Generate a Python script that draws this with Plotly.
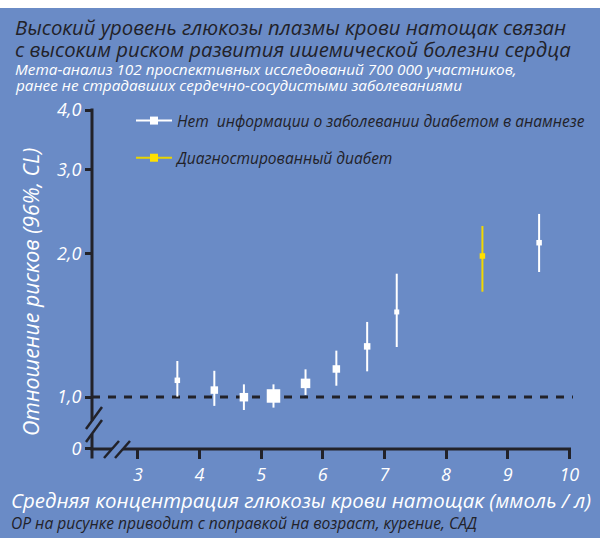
import plotly.graph_objects as go

# ---------------- data ----------------
glucose_nodiab = [3.64, 4.24, 4.72, 5.20, 5.72, 6.22, 6.72, 7.20, 9.51]
rr_nodiab = [1.084, 1.034, 0.999, 1.005, 1.068, 1.145, 1.277, 1.508, 2.107]
lo_nodiab = [1.002, 0.958, 0.939, 0.950, 1.010, 1.056, 1.132, 1.273, 1.829]
hi_nodiab = [1.190, 1.135, 1.063, 1.063, 1.143, 1.251, 1.437, 1.814, 2.421]
weight_nodiab = [5.5, 7.5, 8.5, 13.5, 9.5, 7.5, 6.5, 5, 5.5]

glucose_diab = [8.59]
rr_diab = [1.976]
lo_diab = [1.663]
hi_diab = [2.284]
weight_diab = [5.5]

x_ticks = [3, 4, 5, 6, 7, 8, 9, 10]
x_ticktext = ["3", "4", "5", "6", "7", "8", "9", "10"]
y_ticks = [0.778, 1.0, 2.0, 3.0, 4.0]
y_ticktext = ["0", "1,0", "2,0", "3,0", "4,0"]
ref_value = 1.0

name_nodiab = "Нет\u00a0 информации о заболевании диабетом в анамнезе"
name_diab = "Диагностированный диабет"

title1 = "Высокий уровень глюкозы плазмы крови натощак связан"
title2 = "с высоким риском развития ишемической болезни сердца"
sub1 = "Мета-анализ 102 проспективных исследований 700 000 участников,"
sub2 = "ранее не страдавших сердечно-сосудистыми заболеваниями"
x_title = "Средняя концентрация глюкозы крови натощак (ммоль / л)"
y_title = "Отношение рисков (96%, CL)"
note = "ОР на рисунке приводит с поправкой на возраст, курение, САД"

# ---------------- style / layout ----------------
W, H = 604, 538
ML, MR, MT, MB = 92, 29, 110, 89
PW, PH = W - ML - MR, H - MT - MB
BG = "#6a8bc6"
DARK = "#222229"
WHITE = "#ffffff"
YELLOW = "#ffe000"
FONT = "Open Sans"


def px2x(px):
    return (px - ML) / PW


def py2y(py):
    return (H - MB - py) / PH


fig = go.Figure()

# reference line at RR = 1
fig.add_trace(go.Scatter(
    x=[2.2552, 10.06], y=[ref_value, ref_value], mode="lines",
    line=dict(color=DARK, width=3, dash="8px,8px"),
    showlegend=False, hoverinfo="skip"))


def err(vals, lo, hi, color):
    return dict(type="data", symmetric=False,
                array=[h - v for v, h in zip(vals, hi)],
                arrayminus=[v - l for v, l in zip(vals, lo)],
                color=color, thickness=2, width=0)


fig.add_trace(go.Scatter(
    x=glucose_nodiab, y=rr_nodiab, mode="markers",
    marker=dict(symbol="square", color=WHITE, size=weight_nodiab, line=dict(width=0), opacity=1),
    error_y=err(rr_nodiab, lo_nodiab, hi_nodiab, WHITE), showlegend=False))

fig.add_trace(go.Scatter(
    x=glucose_diab, y=rr_diab, mode="markers",
    marker=dict(symbol="square", color=YELLOW, size=weight_diab, line=dict(width=0), opacity=1),
    error_y=err(rr_diab, lo_diab, hi_diab, "#f2d800"), showlegend=False))

# legend entries
fig.add_trace(go.Scatter(
    x=[None], y=[None], mode="lines+markers", name=name_nodiab, legendgroup="a",
    line=dict(color=WHITE, width=2),
    marker=dict(symbol="square", color=WHITE, size=8)))
fig.add_trace(go.Scatter(
    x=[None], y=[None], mode="lines+markers", name=name_diab, legendgroup="b",
    line=dict(color="#e8d400", width=2),
    marker=dict(symbol="square", color=YELLOW, size=8)))

shapes = []
# white strips (top, right)
shapes.append(dict(type="rect", xref="paper", yref="paper",
                   x0=px2x(-5), x1=px2x(W + 5), y0=py2y(8), y1=py2y(-5),
                   fillcolor="white", line=dict(width=0), layer="below"))
shapes.append(dict(type="rect", xref="paper", yref="paper",
                   x0=px2x(600), x1=px2x(W + 5), y0=py2y(H + 5), y1=py2y(-5),
                   fillcolor="white", line=dict(width=0), layer="below"))


def seg(x0, y0, x1, y1, w=3):
    shapes.append(dict(type="line", xref="paper", yref="paper",
                       x0=px2x(x0), y0=py2y(y0), x1=px2x(x1), y1=py2y(y1),
                       line=dict(color=DARK, width=w)))


# y axis with break
seg(92, 108.5, 92, 420.5)
seg(92, 434, 92, 458.5)
seg(86, 429, 102, 407, 2.5)
seg(86, 442, 102, 420, 2.5)
# x axis with break
seg(90.5, 449, 112, 449)
seg(123, 449, 571, 449)
seg(104, 458, 119, 441, 2.5)
seg(115, 458, 130, 441, 2.5)

fig.update_layout(shapes=shapes)

ann = []


def text(s, x, y, size, color, xanchor="left", angle=0):
    ann.append(dict(text=s, xref="paper", yref="paper", x=px2x(x), y=py2y(y),
                    xanchor=xanchor, yanchor="middle", showarrow=False,
                    textangle=angle, borderpad=0,
                    font=dict(family=FONT, size=size, color=color, style="italic")))


text(title1, 14, 27, 20.3, DARK)
text(title2, 14, 49, 20.3, DARK)
text(sub1, 14, 69, 15.3, WHITE)
text(sub2, 14, 85, 15.3, WHITE)
text(x_title, 10, 500, 20.4, WHITE)
text(note, 10, 523, 15.6, DARK)
text(y_title, 30, 292, 21.3, WHITE, xanchor="center", angle=-90)
fig.update_layout(annotations=ann)

fig.update_layout(
    width=W, height=H,
    margin=dict(l=ML, r=MR, t=MT, b=MB, pad=0),
    paper_bgcolor=BG, plot_bgcolor=BG,
    showlegend=True,
    legend=dict(x=px2x(131), y=py2y(104), xanchor="left", yanchor="top",
                bgcolor="rgba(0,0,0,0)", traceorder="grouped", tracegroupgap=14,
                itemwidth=36,
                font=dict(family=FONT, size=15.5, color=DARK, style="italic")),
    xaxis=dict(range=[2.2552, 10.0924], showgrid=False, zeroline=False, showline=False,
               tickmode="array", tickvals=x_ticks, ticktext=x_ticktext,
               ticks="outside", ticklen=9, tickwidth=2.5, tickcolor=DARK,
               tickfont=dict(family=FONT, size=18, color=WHITE, style="italic")),
    yaxis=dict(type="log", range=[-0.10908, 0.60206], showgrid=False, zeroline=False,
               showline=False, tickmode="array", tickvals=y_ticks, ticktext=y_ticktext,
               ticks="outside", ticklen=6, tickwidth=3, tickcolor=DARK,
               tickfont=dict(family=FONT, size=18, color=WHITE, style="italic")),
)

fig.write_html("out.html", config={"displayModeBar": False},
               post_script="document.body.style.margin='0px';document.body.style.overflow='hidden';")
